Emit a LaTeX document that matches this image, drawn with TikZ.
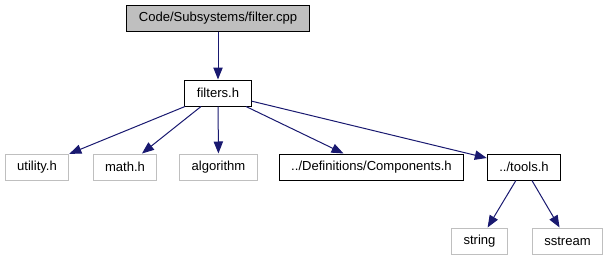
\documentclass[tikz,border=0pt]{standalone}
\usepackage{fontspec}
\setmainfont{Liberation Sans}
\usepackage{tikz}
\usetikzlibrary{arrows.meta}

\definecolor{edgeblue}{HTML}{191970}
\definecolor{sysgray}{HTML}{BFBFBF}

\begin{document}
\begin{tikzpicture}[
    x=0.75pt, y=-0.75pt,
    every node/.style={font=\fontsize{9.8}{11}\selectfont, inner xsep=9pt, inner ysep=0pt,
        minimum height=19.5pt, line width=0.75pt},
    file/.style={draw=black, fill=white},
    sysfile/.style={draw=sysgray, fill=white},
    root/.style={draw=black, fill=sysgray},
    dep/.style={draw=edgeblue, line width=0.75pt, -{Triangle[length=9pt,width=7pt]}}
]
\useasboundingbox (0,0) rectangle (607,261);

% files
\node[root]    (cpp)        at (218,18)    {Code/Subsystems/filter.cpp};
\node[file]    (filters)    at (218,93)    {filters.h};
\node[sysfile] (utility)    at (37,167)    {utility.h};
\node[sysfile] (mathh)      at (125,167)   {math.h};
\node[sysfile] (algorithm)  at (218.5,167) {algorithm};
\node[file]    (components) at (371.5,167) {../Definitions/Components.h};
\node[file]    (tools)      at (524,167)   {../tools.h};
\node[sysfile] (string)     at (479.5,241) {string};
\node[sysfile] (sstream)    at (567.5,241) {sstream};

% includes
\draw[dep] (cpp) -- (filters);
\foreach \n in {utility, mathh, algorithm, components, tools}
    \draw[dep] (filters) -- (\n);
\draw[dep] (tools) -- (string);
\draw[dep] (tools) -- (sstream);
\end{tikzpicture}
\end{document}
